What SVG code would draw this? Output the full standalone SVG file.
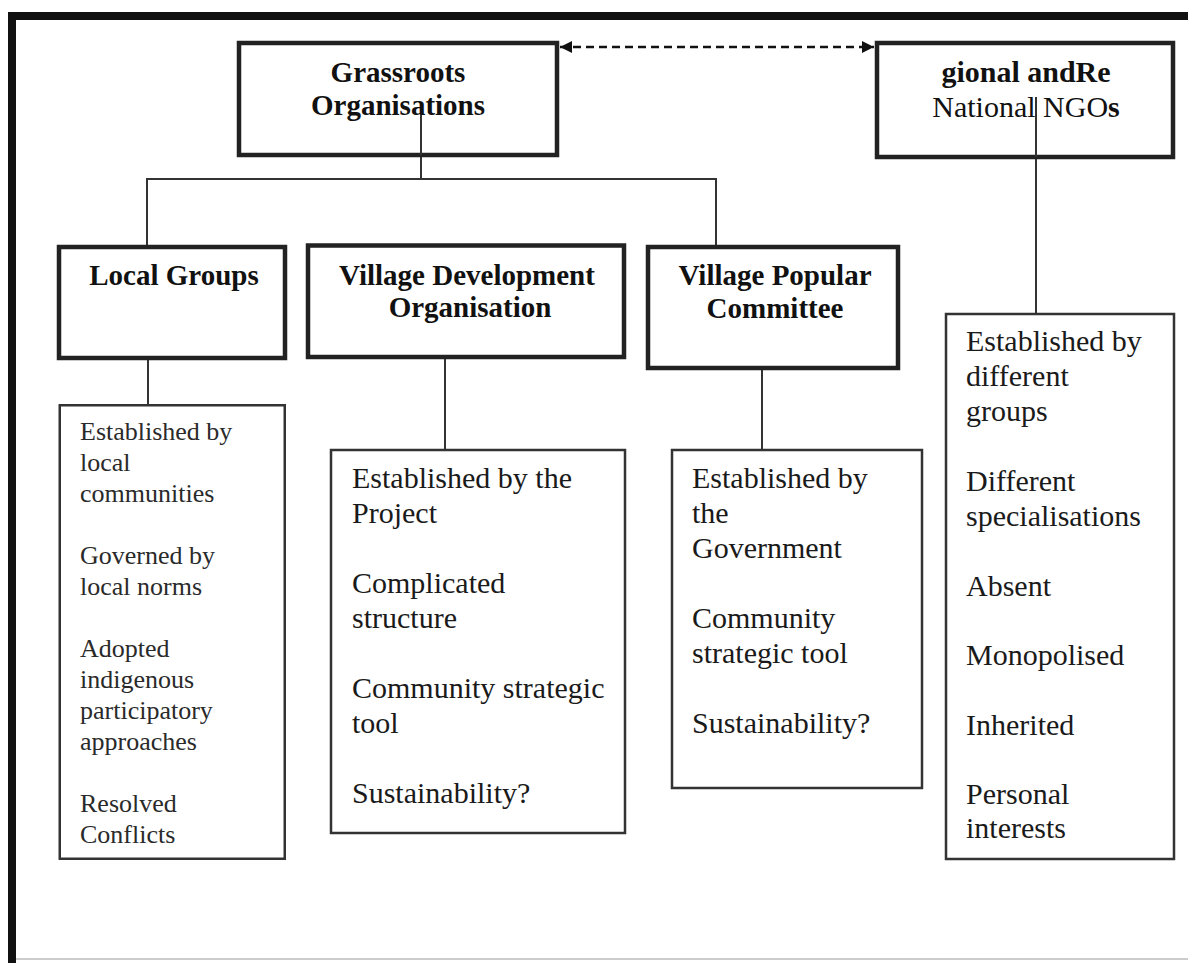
<svg xmlns="http://www.w3.org/2000/svg" width="1188" height="963" viewBox="0 0 1188 963">
<style>
.hbox{fill:#fff;stroke:#222;stroke-width:4.5}
.cbox{fill:#fff;stroke:#333;stroke-width:2.5}
.conn{fill:none;stroke:#333;stroke-width:2}
.ht{font-family:"Liberation Serif","Times New Roman",serif;font-weight:bold;font-size:29px;fill:#111;text-anchor:middle}
.rt{font-family:"Liberation Serif","Times New Roman",serif;font-size:30px;fill:#111;text-anchor:middle}
.ct{font-family:"Liberation Serif","Times New Roman",serif;font-size:30px;fill:#1a1a1a}
.lt{font-family:"Liberation Serif","Times New Roman",serif;font-size:26px;fill:#2a2a2a}
</style>
<defs>
<marker id="ah" viewBox="0 0 12 12" refX="12" refY="6" markerWidth="12" markerHeight="12" markerUnits="userSpaceOnUse" orient="auto-start-reverse">
<path d="M0,0 L12,6 L0,12 Z" fill="#111"/>
</marker>
</defs>
<rect width="1188" height="963" fill="#fff"/>
<g id="frame">
<rect x="8" y="12" width="1180" height="8" fill="#111"/>
<rect x="8" y="12" width="8" height="951" fill="#111"/>
<line x1="16" y1="959" x2="1188" y2="959" stroke="#ccc" stroke-width="2"/>
</g>
<g id="connectors">
<line class="conn" x1="421" y1="115" x2="421" y2="180"/>
<polyline class="conn" points="147,245 147,179 716,179 716,245"/>
<line class="conn" x1="1036" y1="97" x2="1036" y2="314"/>
<line class="conn" x1="148" y1="360" x2="148" y2="405"/>
<line class="conn" x1="445" y1="359" x2="445" y2="450"/>
<line class="conn" x1="762" y1="370" x2="762" y2="450"/>
<line x1="560" y1="47" x2="874" y2="47" stroke="#111" stroke-width="2.5" stroke-dasharray="8 5" marker-start="url(#ah)" marker-end="url(#ah)"/>
</g>
<g id="grassroots">
<rect class="hbox" x="239" y="43" width="318" height="112"/>
<text class="ht" x="398" y="82">Grassroots</text>
<text class="ht" x="398" y="115">Organisations</text>
<line class="conn" x1="421" y1="115" x2="421" y2="155"/>
</g>
<g id="regional">
<rect class="hbox" x="877" y="43" width="296" height="114" stroke-width="4"/>
<text class="rt" x="1026" y="82" font-weight="bold">gional andRe</text>
<text class="rt" x="1026" y="117">National NGO<tspan font-weight="bold">s</tspan></text>
<line class="conn" x1="1036" y1="97" x2="1036" y2="157"/>
</g>
<g id="local-groups">
<rect class="hbox" x="59" y="247" width="226" height="111" stroke-width="4"/>
<text class="ht" x="174" y="285">Local Groups</text>
</g>
<g id="vdo">
<rect class="hbox" x="308" y="245.5" width="316" height="111.5" stroke-width="4"/>
<text class="ht" x="467" y="285">Village Development</text>
<text class="ht" x="470" y="317">Organisation</text>
</g>
<g id="vpc">
<rect class="hbox" x="648" y="247" width="250" height="121" stroke-width="4"/>
<text class="ht" x="775" y="285">Village Popular</text>
<text class="ht" x="775" y="318">Committee</text>
</g>
<g id="local-groups-details">
<rect class="cbox" x="59.75" y="405.25" width="225" height="453.5"/>
<text class="lt" x="80" y="440">Established by</text>
<text class="lt" x="80" y="471">local</text>
<text class="lt" x="80" y="502">communities</text>
<text class="lt" x="80" y="564">Governed by</text>
<text class="lt" x="80" y="595">local norms</text>
<text class="lt" x="80" y="657">Adopted</text>
<text class="lt" x="80" y="688">indigenous</text>
<text class="lt" x="80" y="719">participatory</text>
<text class="lt" x="80" y="750">approaches</text>
<text class="lt" x="80" y="812">Resolved</text>
<text class="lt" x="80" y="843">Conflicts</text>
</g>
<g id="vdo-details">
<rect class="cbox" x="331" y="450" width="294" height="383"/>
<text class="ct" x="352" y="488">Established by the</text>
<text class="ct" x="352" y="523">Project</text>
<text class="ct" x="352" y="593">Complicated</text>
<text class="ct" x="352" y="628">structure</text>
<text class="ct" x="352" y="698">Community strategic</text>
<text class="ct" x="352" y="733">tool</text>
<text class="ct" x="352" y="803">Sustainability?</text>
</g>
<g id="vpc-details">
<rect class="cbox" x="672" y="450" width="250" height="338"/>
<text class="ct" x="692" y="488">Established by</text>
<text class="ct" x="692" y="523">the</text>
<text class="ct" x="692" y="558">Government</text>
<text class="ct" x="692" y="628">Community</text>
<text class="ct" x="692" y="663">strategic tool</text>
<text class="ct" x="692" y="733">Sustainability?</text>
</g>
<g id="regional-details">
<rect class="cbox" x="946" y="314" width="228" height="545"/>
<text class="ct" x="966" y="351">Established by</text>
<text class="ct" x="966" y="386">different</text>
<text class="ct" x="966" y="421">groups</text>
<text class="ct" x="966" y="491">Different</text>
<text class="ct" x="966" y="526">specialisations</text>
<text class="ct" x="966" y="596">Absent</text>
<text class="ct" x="966" y="665">Monopolised</text>
<text class="ct" x="966" y="735">Inherited</text>
<text class="ct" x="966" y="804">Personal</text>
<text class="ct" x="966" y="838">interests</text>
</g>
</svg>
